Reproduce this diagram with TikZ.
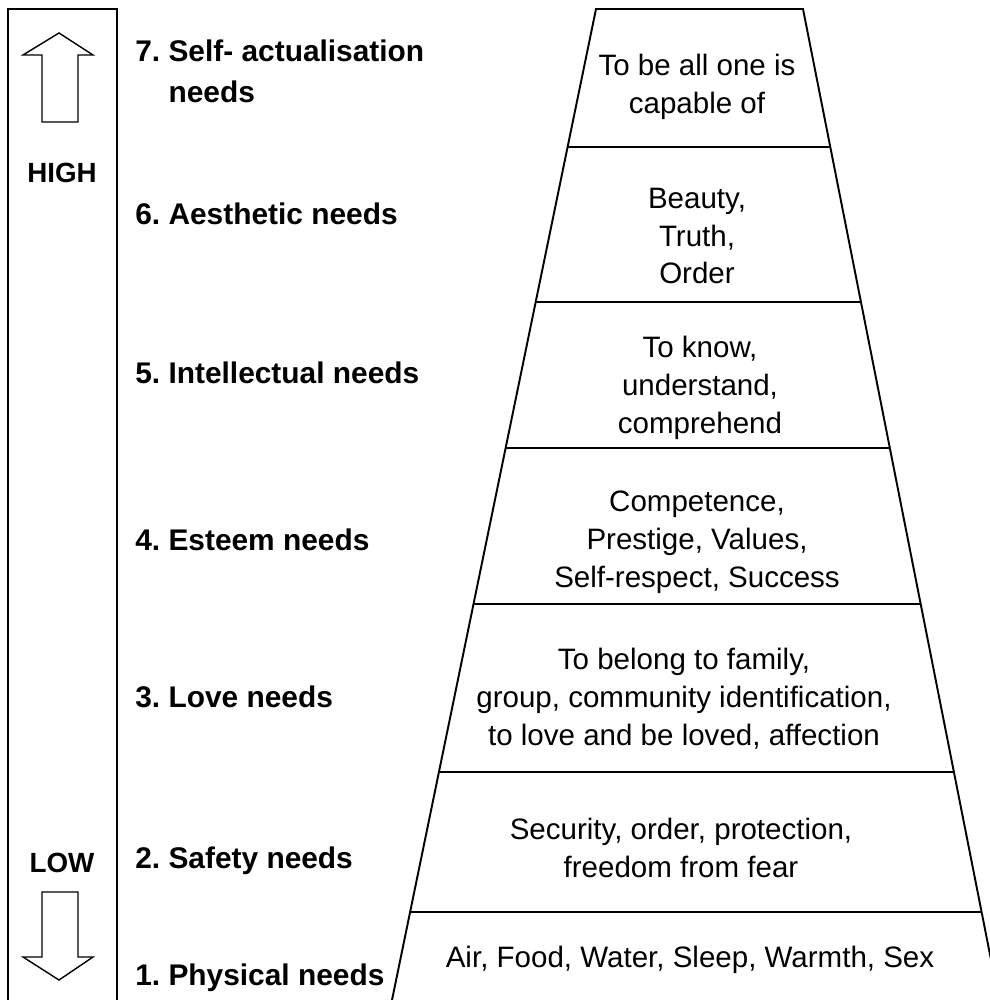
\documentclass[tikz,border=0pt]{standalone}
\usepackage{fontspec}
\setmainfont{Liberation Sans}
\usetikzlibrary{calc}
\frenchspacing
\tikzset{
  edge/.style={draw=black, line width=1.1pt},
  hollow/.style={draw=black, line width=0.8pt},
  need/.style={anchor=base west, inner sep=0pt, align=left,
               font=\fontsize{17}{22.8}\selectfont\bfseries},
  desc/.style={inner sep=0pt, align=center,
               font=\fontsize{16.8}{21.6}\selectfont},
  grade/.style={anchor=base, inner sep=0pt,
                font=\fontsize{15.8}{18}\selectfont\bfseries},
}

\begin{document}
\begin{tikzpicture}[x=0.2mm, y=-0.2mm]
\clip (0,0) rectangle (990,1000);

% --- Scale column: HIGH / LOW ---
\draw[hollow] (8,1000) |- (117,9) -- (117,1000);
\draw[hollow] (42,122) -- (42,55) -- (23,55) -- (59,33) -- (93,55)
    -- (78,55) -- (78,122) -- cycle;
\draw[hollow] (42,892) -- (42,957) -- (23,957) -- (59,980) -- (93,957)
    -- (78,957) -- (78,892) -- cycle;
\node[grade] (high) at (62,182) {HIGH};
\node[grade] (low)  at (62,872) {LOW};

% --- Pyramid outline and levels ---
\coordinate (apexL) at (596,9);
\coordinate (apexR) at (803,9);
\coordinate (baseL) at (392,1000);
\coordinate (baseR) at (999,1000);
\draw[edge] (baseL) -- (apexL) -- (apexR) -- (baseR);
\foreach \t in {0.1393, 0.2957, 0.4430, 0.6004, 0.7699, 0.9112}
  \draw[edge] ($(apexL)!\t!(baseL)$) -- ($(apexR)!\t!(baseR)$);

% --- Need names (left) ---
\node[need] (n7) at (135,102) {7. Self- actualisation\\\phantom{7. }needs};
\node[need] (n6) at (135,224) {6. Aesthetic needs};
\node[need] (n5) at (135,383) {5. Intellectual needs};
\node[need] (n4) at (135,550) {4. Esteem needs};
\node[need] (n3) at (135,707) {3. Love needs};
\node[need] (n2) at (135,868) {2. Safety needs};
\node[need] (n1) at (135,985) {1. Physical needs};

% --- Descriptions (inside pyramid) ---
\node[desc] (d7) at (697,87)  {To be all one is\\capable of};
\node[desc] (d6) at (697,236) {Beauty,\\Truth,\\Order};
\node[desc] (d5) at (700,388) {To know,\\understand,\\comprehend};
\node[desc] (d4) at (697,542) {Competence,\\Prestige, Values,\\Self-respect, Success};
\node[desc] (d3) at (684,699) {To belong to family,\\group, community identification,\\to love and be loved, affection};
\node[desc] (d2) at (681,848) {Security, order, protection,\\freedom from fear};
\node[desc] (d1) at (690,960) {Air, Food, Water, Sleep, Warmth, Sex};

\end{tikzpicture}
\end{document}
